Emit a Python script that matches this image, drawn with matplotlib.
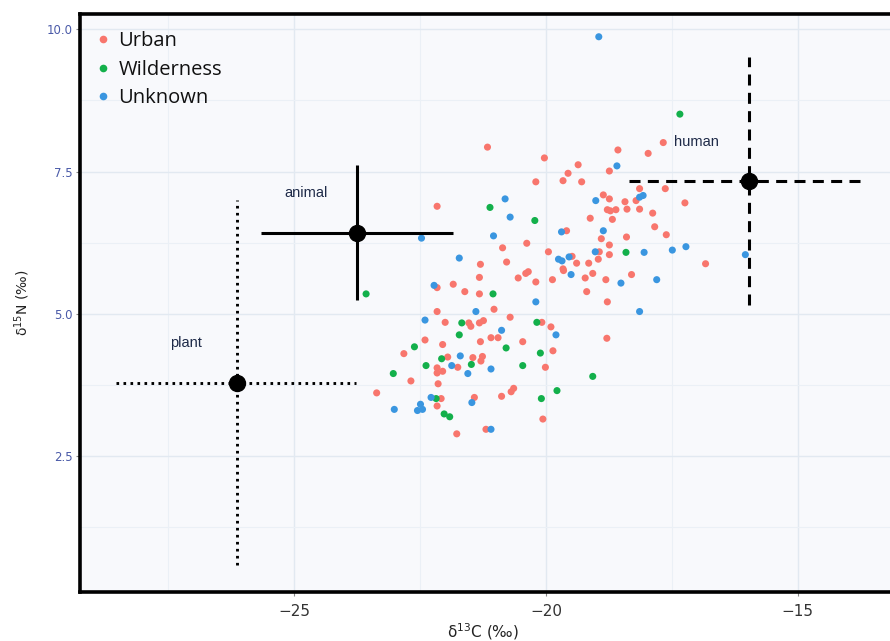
import matplotlib
matplotlib.use("Agg")
import matplotlib.pyplot as plt
from matplotlib.lines import Line2D
from matplotlib.ticker import MultipleLocator

# ---------------- data ----------------
urban_x = [-22.16, -21.84, -21.32, -21.61, -21.32, -22.16, -21.03, -22.00, -21.53, -21.49,
           -21.32, -21.24, -22.40, -22.05, -21.30, -21.09, -20.95, -22.82, -21.95, -21.45,
           -21.26, -21.29, -21.75, -22.16, -22.16, -22.05, -22.68, -22.14, -23.36, -20.88,
           -22.08, -21.42, -22.16, -21.19, -21.77, -20.55, -20.40, -20.35, -20.20, -19.87,
           -19.65, -19.22, -19.07, -18.81, -18.30, -19.19, -18.78, -20.71, -20.08, -19.90,
           -18.79, -20.46, -19.86, -20.01, -20.64, -20.69, -20.06, -21.16, -20.03, -20.20,
           -22.16, -20.86, -20.38, -19.95, -21.30, -20.78, -17.67, -18.57, -17.97, -19.36,
           -19.56, -18.74, -19.66, -19.29, -18.14, -17.63, -18.86, -18.74, -18.43, -18.21,
           -17.24, -18.78, -18.72, -18.61, -18.39, -18.14, -17.88, -18.68, -19.12, -17.84,
           -19.59, -18.90, -18.40, -17.61, -18.74, -18.94, -18.74, -19.48, -19.39, -19.15,
           -18.96, -19.66, -16.83]
urban_y = [5.46, 5.52, 5.64, 5.39, 5.35, 5.04, 5.08, 4.85, 4.84, 4.78,
           4.84, 4.88, 4.54, 4.46, 4.51, 4.58, 4.58, 4.30, 4.24, 4.23,
           4.25, 4.17, 4.06, 4.05, 3.96, 3.99, 3.82, 3.77, 3.61, 3.55,
           3.51, 3.53, 3.38, 2.97, 2.89, 5.63, 5.71, 5.74, 5.56, 5.60,
           5.76, 5.63, 5.71, 5.60, 5.69, 5.39, 5.21, 4.94, 4.85, 4.77,
           4.57, 4.51, 4.35, 4.06, 3.69, 3.63, 3.15, 7.93, 7.74, 7.32,
           6.89, 6.16, 6.24, 6.09, 5.87, 5.91, 8.01, 7.88, 7.82, 7.62,
           7.47, 7.51, 7.34, 7.32, 7.20, 7.20, 7.09, 7.02, 6.97, 6.99,
           6.95, 6.83, 6.81, 6.83, 6.84, 6.84, 6.77, 6.66, 6.68, 6.53,
           6.46, 6.32, 6.35, 6.39, 6.21, 6.09, 6.04, 6.01, 5.89, 5.89,
           5.96, 5.79, 5.88]

wild_x = [-23.57, -21.05, -21.67, -21.72, -20.79, -22.61, -22.07, -22.38, -21.48, -23.03,
          -22.18, -22.02, -21.91, -20.18, -20.11, -20.46, -19.07, -19.78, -20.09, -21.11,
          -20.22, -18.41, -17.34]
wild_y = [5.35, 5.35, 4.84, 4.63, 4.40, 4.42, 4.21, 4.09, 4.11, 3.95,
          3.51, 3.24, 3.19, 4.85, 4.31, 4.09, 3.90, 3.65, 3.51, 6.87,
          6.64, 6.08, 8.51]

unk_x = [-22.22, -21.39, -22.40, -20.88, -21.70, -21.87, -21.09, -21.55, -22.28, -21.47,
         -23.01, -22.49, -22.55, -22.45, -21.09, -19.50, -18.51, -20.20, -18.14, -19.80,
         -20.81, -20.71, -22.47, -21.04, -21.72, -18.59, -19.01, -18.14, -18.07, -19.69,
         -18.86, -19.02, -18.05, -17.49, -17.22, -19.75, -19.68, -19.54, -16.04, -17.80,
         -18.95]
unk_y = [5.50, 5.04, 4.89, 4.71, 4.26, 4.09, 4.03, 3.95, 3.53, 3.44,
         3.32, 3.41, 3.30, 3.32, 2.97, 5.69, 5.54, 5.21, 5.04, 4.63,
         7.02, 6.70, 6.33, 6.37, 5.98, 7.60, 6.99, 7.05, 7.08, 6.44,
         6.46, 6.09, 6.08, 6.12, 6.18, 5.96, 5.93, 6.00, 6.04, 5.60,
         9.87]

groups = ["Urban", "Wilderness", "Unknown"]
group_colors = ["#F8766D", "#13B04B", "#3A96E0"]

# reference sources: mean and extent of the bars
src_names = ["plant", "animal", "human"]
src_cx = [-26.13, -23.75, -15.97]
src_cy = [3.79, 6.42, 7.34]
src_xlo = [-28.53, -25.66, -18.35]
src_xhi = [-23.77, -21.85, -13.65]
src_ylo = [0.59, 5.24, 5.16]
src_yhi = [7.00, 7.62, 9.52]
src_label_x = [-27.14, -24.76, -17.02]
src_label_y = [4.49, 7.13, 8.02]

x_ticks = [-25, -20, -15]
y_ticks = [2.5, 5.0, 7.5, 10.0]
y_tick_labels = ["2.5", "5.0", "7.5", "10.0"]

# ---------------- figure ----------------
fig = plt.figure(figsize=(8.9, 6.41), dpi=100)
fig.patch.set_facecolor("white")
ax = fig.add_axes([80 / 890, 49 / 641, 822 / 890, 578 / 641])
ax.set_facecolor("#F8F9FC")

ax.set_xlim(-29.25, -12.93)
ax.set_ylim(0.11, 10.27)

ax.xaxis.set_major_locator(MultipleLocator(5))
ax.xaxis.set_minor_locator(MultipleLocator(2.5))
ax.yaxis.set_major_locator(MultipleLocator(2.5))
ax.yaxis.set_minor_locator(MultipleLocator(1.25))
ax.grid(which="major", color="#E2E9F1", linewidth=1.0, zorder=0)
ax.grid(which="minor", color="#EBF0F6", linewidth=0.8, zorder=0)
ax.set_axisbelow(True)

ax.set_xticks(x_ticks)
ax.set_xticklabels(["\u2212" + str(abs(v)) for v in x_ticks])
ax.set_yticks(y_ticks)
ax.set_yticklabels(y_tick_labels)
ax.tick_params(which="minor", length=0)
ax.tick_params(axis="x", which="major", length=3, width=0.8, color="#888888",
               labelsize=11, labelcolor="#333333", pad=6)
ax.tick_params(axis="y", which="major", length=3, width=0.8, color="#888888",
               labelsize=8.5, labelcolor="#4A5AA8", pad=2)
for lab in ax.get_xticklabels() + ax.get_yticklabels():
    lab.set_family(["Liberation Sans Narrow", "DejaVu Sans"])

for side in ["left", "top", "bottom"]:
    ax.spines[side].set_linewidth(2.6)
    ax.spines[side].set_color("black")
ax.spines["right"].set_visible(False)

# scatter
for xs, ys, name, col in zip([urban_x, wild_x, unk_x], [urban_y, wild_y, unk_y], groups, group_colors):
    ax.scatter(xs, ys, s=26, color=col, edgecolors="none", label=name, zorder=3)

# source crosses
styles = [dict(linestyle=(0, (0.9, 1.5)), linewidth=2.1),
          dict(linestyle="-", linewidth=2.2),
          dict(linestyle=(0, (3.6, 2.4)), linewidth=2.2)]
for i in range(3):
    ax.plot([src_xlo[i], src_xhi[i]], [src_cy[i], src_cy[i]], color="black",
            solid_capstyle="butt", dash_capstyle="butt", zorder=4, **styles[i])
    ax.plot([src_cx[i], src_cx[i]], [src_ylo[i], src_yhi[i]], color="black",
            solid_capstyle="butt", dash_capstyle="butt", zorder=4, **styles[i])
    ax.plot([src_cx[i]], [src_cy[i]], marker="o", markersize=11.5, color="black", zorder=5)
    ax.text(src_label_x[i], src_label_y[i], src_names[i], ha="center", va="center",
            fontsize=10.5, color="#1E2A48", family=["Liberation Sans", "DejaVu Sans"], zorder=5)

# legend
handles = [Line2D([0], [0], marker="o", linestyle="none", markersize=5.5,
                  markerfacecolor=c, markeredgecolor="none") for c in group_colors]
leg = ax.legend(handles, groups, loc="upper left", bbox_to_anchor=(0.0, 1.0 - 4 / 578),
                frameon=False, prop={"family": ["Open Sans", "DejaVu Sans"], "size": 14.5},
                handletextpad=0.25, labelspacing=0.42, borderaxespad=0.25, borderpad=0.4,
                handlelength=1.0)
for t in leg.get_texts():
    t.set_color("#111111")

# axis labels
fig.text(22 / 890, 1 - 303 / 641, "\u03b4$^{15}$N (\u2030)", rotation=90, ha="center", va="center",
         fontsize=10, color="#222222", family=["Liberation Sans Narrow", "DejaVu Sans"])
fig.text(483 / 890, 1 - 632 / 641, "\u03b4$^{13}$C (\u2030)", ha="center", va="center",
         fontsize=11, color="#222222", family=["Liberation Sans Narrow", "DejaVu Sans"])

fig.savefig("out.png", dpi=100)
